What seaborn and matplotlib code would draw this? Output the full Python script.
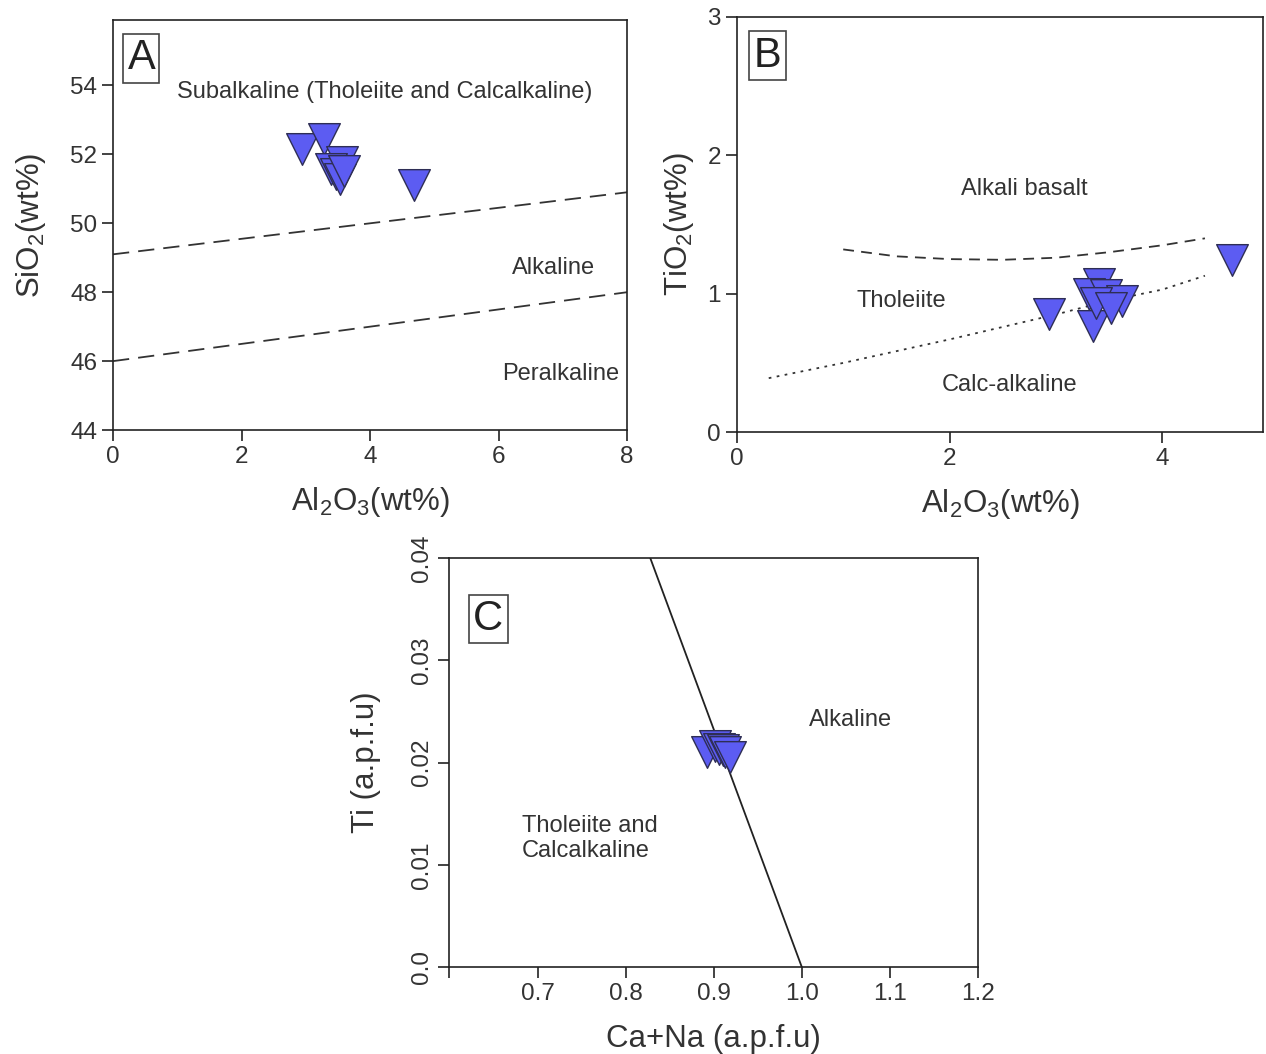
import numpy as np
import pandas as pd
import matplotlib
matplotlib.use('Agg')
import matplotlib.pyplot as plt
from matplotlib import font_manager
import seaborn as sns

sns.set_theme(style='ticks')

# use a condensed face if the system has it
try:
    font_manager.findfont('Liberation Sans Narrow', fallback_to_default=False)
    face = 'Liberation Sans Narrow'
    narrow = True
except Exception:
    face = 'Liberation Sans'
    narrow = False

plt.rcParams['font.family'] = [face, 'Liberation Sans', 'DejaVu Sans']
plt.rcParams['mathtext.fontset'] = 'custom'
plt.rcParams['mathtext.rm'] = face
plt.rcParams['mathtext.default'] = 'regular'

# Panel A: SiO2 vs Al2O3
a_al2o3 = [2.94, 3.28, 3.56, 3.39, 3.47, 3.53, 3.60, 4.68]
a_sio2 = [52.16, 52.45, 51.78, 51.58, 51.43, 51.29, 51.52, 51.11]
a_upper_x = [0, 8]
a_upper_y = [49.1, 50.9]
a_lower_x = [0, 8]
a_lower_y = [46.0, 48.0]

# Panel B: TiO2 vs Al2O3
b_al2o3 = [2.93, 3.40, 3.31, 3.47, 3.62, 3.35, 3.38, 3.52, 4.65]
b_tio2 = [0.85, 1.07, 1.00, 0.99, 0.95, 0.77, 0.93, 0.90, 1.24]
b_dash_x = [1.0, 1.5, 2.0, 2.5, 3.0, 3.5, 4.0, 4.4]
b_dash_y = [1.32, 1.27, 1.25, 1.245, 1.26, 1.30, 1.35, 1.40]
b_dot_x = [0.3, 1.0, 2.0, 3.0, 3.5, 4.0, 4.4]
b_dot_y = [0.39, 0.50, 0.67, 0.85, 0.95, 1.03, 1.13]

# Panel C: Ti vs Ca+Na
c_cana = [0.892, 0.902, 0.906, 0.910, 0.913, 0.918]
c_ti = [0.0210, 0.0216, 0.0213, 0.0212, 0.0210, 0.0205]
c_line_x = [0.828, 1.0]
c_line_y = [0.04, 0.0]

fill = '#5c5cf2'
edge = '#2e2e55'
txt = '#333333'
msize = 520
if narrow:
    fs_tick, fs_lab, fs_ann, fs_tag = 20.5, 26, 20, 34
else:
    fs_tick, fs_lab, fs_ann, fs_tag = 17.5, 22.5, 17, 30

fig = plt.figure(figsize=(12.66, 10.54), dpi=100)
axA = fig.add_axes([0.0893, 0.592, 0.406, 0.389])
axB = fig.add_axes([0.582, 0.590, 0.416, 0.394])
axC = fig.add_axes([0.355, 0.0825, 0.4175, 0.388])


def style(ax):
    for s in ax.spines.values():
        s.set_visible(True)
        s.set_color('#222222')
        s.set_linewidth(1.2)
    ax.tick_params(direction='out', length=8, width=1.2, colors='#222222',
                   labelsize=fs_tick, labelcolor=txt, top=False, right=False)


def panel_tag(ax, letter, x, y):
    ax.text(x, y, letter, transform=ax.transAxes, fontsize=fs_tag,
            color='#222222', ha='left', va='top',
            bbox=dict(boxstyle='square,pad=0.1', fc='white', ec='#444444', lw=1.2))


# A
sns.lineplot(x=a_upper_x, y=a_upper_y, ax=axA, color='#333333', lw=1.3,
             linestyle=(0, (9, 5)))
sns.lineplot(x=a_lower_x, y=a_lower_y, ax=axA, color='#333333', lw=1.3,
             linestyle=(0, (9, 5)))
sns.scatterplot(x=a_al2o3, y=a_sio2, ax=axA, marker='v', s=msize,
                color=fill, edgecolor=edge, linewidth=1.0, zorder=5)
axA.set_xlim(0, 8)
axA.set_ylim(44, 55.9)
axA.set_xticks([0, 2, 4, 6, 8])
axA.set_yticks([44, 46, 48, 50, 52, 54])
axA.set_xlabel('Al$_2$O$_3$(wt%)', fontsize=fs_lab, color=txt, labelpad=12)
axA.set_ylabel('SiO$_2$(wt%)', fontsize=fs_lab, color=txt, labelpad=16)
axA.text(4.23, 53.8, 'Subalkaline (Tholeiite and Calcalkaline)', fontsize=fs_ann,
         color=txt, ha='center', va='center')
axA.text(6.85, 48.7, 'Alkaline', fontsize=fs_ann, color=txt, ha='center', va='center')
axA.text(6.97, 45.63, 'Peralkaline', fontsize=fs_ann, color=txt, ha='center', va='center')
style(axA)
panel_tag(axA, 'A', 0.028, 0.955)

# B
sns.lineplot(x=b_dash_x, y=b_dash_y, ax=axB, color='#333333', lw=1.3,
             linestyle=(0, (6, 4)), sort=False)
sns.lineplot(x=b_dot_x, y=b_dot_y, ax=axB, color='#333333', lw=1.3,
             linestyle=(0, (1.5, 3)), sort=False)
sns.scatterplot(x=b_al2o3, y=b_tio2, ax=axB, marker='v', s=msize,
                color=fill, edgecolor=edge, linewidth=1.0, zorder=5)
axB.set_xlim(0, 4.95)
axB.set_ylim(0, 3)
axB.set_xticks([0, 2, 4])
axB.set_yticks([0, 1, 2, 3])
axB.set_xlabel('Al$_2$O$_3$(wt%)', fontsize=fs_lab, color=txt, labelpad=12)
axB.set_ylabel('TiO$_2$(wt%)', fontsize=fs_lab, color=txt, labelpad=8)
axB.text(2.7, 1.76, 'Alkali basalt', fontsize=fs_ann, color=txt, ha='center', va='center')
axB.text(1.55, 0.95, 'Tholeiite', fontsize=fs_ann, color=txt, ha='center', va='center')
axB.text(2.56, 0.34, 'Calc-alkaline', fontsize=fs_ann, color=txt, ha='center', va='center')
style(axB)
panel_tag(axB, 'B', 0.032, 0.955)

# C
sns.lineplot(x=c_line_x, y=c_line_y, ax=axC, color='#222222', lw=1.3)
sns.scatterplot(x=c_cana, y=c_ti, ax=axC, marker='v', s=msize,
                color=fill, edgecolor=edge, linewidth=1.0, zorder=5)
axC.set_xlim(0.6, 1.2)
axC.set_ylim(0, 0.04)
axC.set_xticks([0.6, 0.7, 0.8, 0.9, 1.0, 1.1, 1.2])
axC.set_xticklabels(['', '0.7', '0.8', '0.9', '1.0', '1.1', '1.2'])
axC.set_yticks([0, 0.01, 0.02, 0.03, 0.04])
axC.set_yticklabels(['0.0', '0.01', '0.02', '0.03', '0.04'], rotation=90, va='center')
axC.set_xlabel('Ca+Na (a.p.f.u)', fontsize=fs_lab, color=txt, labelpad=14)
axC.set_ylabel('Ti (a.p.f.u)', fontsize=fs_lab, color=txt, labelpad=22)
axC.text(1.055, 0.0242, 'Alkaline', fontsize=fs_ann, color=txt, ha='center', va='center')
axC.text(0.682, 0.0126, 'Tholeiite and\nCalcalkaline', fontsize=fs_ann, color=txt,
         ha='left', va='center', linespacing=1.15)
style(axC)
panel_tag(axC, 'C', 0.045, 0.9)

fig.savefig('out.png', dpi=100)
